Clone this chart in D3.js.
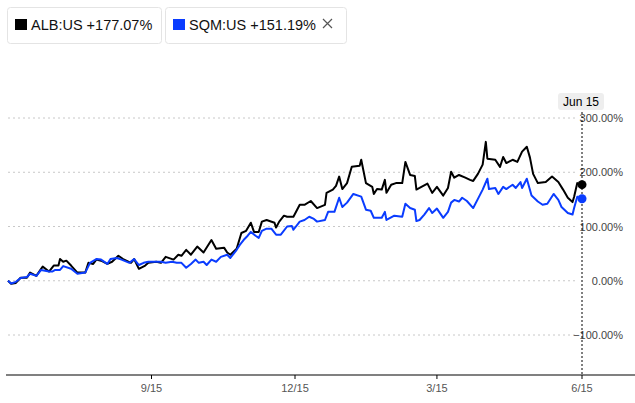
<!DOCTYPE html>
<html>
<head>
<meta charset="utf-8">
<script src="https://d3js.org/d3.v7.min.js"></script>
<style>
  body { margin: 0; background: #fff; }
  svg text { font-family: "Liberation Sans", Arial, Helvetica, sans-serif; }
</style>
</head>
<body>
<script>
  // ALB:US, % change since start
  var albDates = ["2016-06-16","2016-06-18","2016-06-21","2016-06-24","2016-06-28","2016-06-30","2016-07-04","2016-07-07","2016-07-08","2016-07-12","2016-07-15","2016-07-18","2016-07-19","2016-07-21","2016-07-23","2016-07-26","2016-07-30","2016-08-04","2016-08-06","2016-08-09","2016-08-11","2016-08-14","2016-08-18","2016-08-21","2016-08-25","2016-08-28","2016-09-02","2016-09-04","2016-09-07","2016-09-11","2016-09-13","2016-09-18","2016-09-21","2016-09-24","2016-09-29","2016-10-02","2016-10-04","2016-10-07","2016-10-10","2016-10-14","2016-10-18","2016-10-23","2016-10-26","2016-10-31","2016-11-02","2016-11-04","2016-11-08","2016-11-11","2016-11-14","2016-11-17","2016-11-19","2016-11-22","2016-11-24","2016-11-27","2016-12-02","2016-12-03","2016-12-05","2016-12-08","2016-12-10","2016-12-14","2016-12-18","2016-12-21","2016-12-25","2016-12-29","2017-01-03","2017-01-04","2017-01-08","2017-01-10","2017-01-12","2017-01-14","2017-01-17","2017-01-20","2017-01-25","2017-01-26","2017-01-29","2017-02-02","2017-02-03","2017-02-05","2017-02-08","2017-02-10","2017-02-11","2017-02-14","2017-02-17","2017-02-21","2017-02-23","2017-02-26","2017-03-01","2017-03-02","2017-03-04","2017-03-09","2017-03-12","2017-03-15","2017-03-19","2017-03-22","2017-03-24","2017-03-26","2017-03-29","2017-04-02","2017-04-05","2017-04-07","2017-04-10","2017-04-13","2017-04-15","2017-04-16","2017-04-21","2017-04-24","2017-04-26","2017-04-28","2017-05-02","2017-05-05","2017-05-08","2017-05-11","2017-05-13","2017-05-15","2017-05-18","2017-05-23","2017-05-27","2017-05-31","2017-06-03","2017-06-06","2017-06-09","2017-06-10","2017-06-12","2017-06-13","2017-06-15"];
  var albValues = [0,-5.5,-4,5.5,5.5,15,9,22,26,17,28,28,40,35,37,28,15,15,33,31,39,37,31,35,46,40,33,40,22,28,33,35,33,44,39,48,46,57,48,63,52,75,59,61,52,48,59,88,92,107,90,90,109,112,107,98,109,120,118,118,140,140,147,134,140,162,168,175,192,169,180,210,212,223,180,173,160,169,168,186,162,177,180,180,219,195,193,168,171,179,162,173,157,171,201,190,195,190,186,184,197,214,256,225,223,210,228,217,223,219,238,247,227,197,180,182,192,182,168,153,145,155,180,178,177.07];

  // SQM:US, % change since start
  var sqmDates = ["2016-06-16","2016-06-18","2016-06-21","2016-06-24","2016-06-28","2016-06-30","2016-07-04","2016-07-07","2016-07-12","2016-07-14","2016-07-16","2016-07-19","2016-07-21","2016-07-26","2016-07-30","2016-08-04","2016-08-07","2016-08-11","2016-08-14","2016-08-18","2016-08-20","2016-08-24","2016-08-27","2016-09-01","2016-09-04","2016-09-07","2016-09-10","2016-09-13","2016-09-21","2016-09-24","2016-09-28","2016-10-01","2016-10-04","2016-10-07","2016-10-10","2016-10-13","2016-10-15","2016-10-18","2016-10-20","2016-10-23","2016-10-26","2016-10-29","2016-11-02","2016-11-04","2016-11-08","2016-11-10","2016-11-13","2016-11-15","2016-11-17","2016-11-20","2016-11-22","2016-11-24","2016-11-27","2016-11-30","2016-12-03","2016-12-06","2016-12-10","2016-12-13","2016-12-14","2016-12-18","2016-12-21","2016-12-24","2016-12-27","2016-12-29","2017-01-03","2017-01-05","2017-01-09","2017-01-12","2017-01-14","2017-01-17","2017-01-21","2017-01-26","2017-01-29","2017-02-01","2017-02-03","2017-02-08","2017-02-10","2017-02-11","2017-02-16","2017-02-21","2017-02-23","2017-02-26","2017-03-01","2017-03-02","2017-03-04","2017-03-07","2017-03-10","2017-03-12","2017-03-15","2017-03-19","2017-03-22","2017-03-24","2017-03-26","2017-03-29","2017-03-31","2017-04-03","2017-04-07","2017-04-10","2017-04-13","2017-04-16","2017-04-17","2017-04-21","2017-04-23","2017-04-26","2017-04-28","2017-05-02","2017-05-04","2017-05-07","2017-05-08","2017-05-11","2017-05-14","2017-05-18","2017-05-21","2017-05-24","2017-05-28","2017-05-31","2017-06-02","2017-06-06","2017-06-09","2017-06-10","2017-06-12","2017-06-13","2017-06-15"];
  var sqmValues = [0,-5,-2,5,7,13,9,20,17,17,20,20,27,22,13,15,33,40,39,31,40,42,39,33,40,29,33,35,35,33,35,33,33,24,31,39,33,35,29,39,35,44,48,42,57,66,77,83,90,83,79,92,96,96,85,85,100,101,94,109,112,118,114,109,112,127,127,153,136,144,160,155,131,129,116,116,127,112,120,118,142,134,131,110,112,122,134,125,133,116,127,144,149,146,153,147,134,151,168,188,169,171,160,173,169,177,171,182,171,188,157,146,140,142,160,149,136,125,122,134,155,153,151.19];

  var yTicks = [300, 200, 100, 0, -100];
  var xTicks = ["2016-09-15", "2016-12-15", "2017-03-15", "2017-06-15"];
  var legendNames = ["ALB:US", "SQM:US"];
  var legendChanges = ["+177.07%", "+151.19%"];
  var colors = ["#000000", "#0a3cff"];
  var endLabel = "Jun 15";

  var W = 635, H = 403;
  var parse = d3.timeParse("%Y-%m-%d");

  var svg = d3.select("body").append("svg")
    .attr("width", W)
    .attr("height", H);

  var x = d3.scaleTime()
    .domain([parse("2016-06-16"), parse("2017-06-15")])
    .range([8, 582]);

  var y = d3.scaleLinear()
    .domain([-100, 300])
    .range([335, 118]);

  // gridlines + y labels
  var yg = svg.append("g");
  yg.selectAll("line").data(yTicks).enter().append("line")
    .attr("x1", 8).attr("x2", 578)
    .attr("y1", d => y(d)).attr("y2", d => y(d))
    .attr("stroke", "#c8c8c8")
    .attr("stroke-width", 1)
    .attr("stroke-dasharray", "2,3");
  yg.selectAll("text").data(yTicks).enter().append("text")
    .attr("x", 623)
    .attr("y", d => y(d) + 4)
    .attr("text-anchor", "end")
    .attr("fill", "#444")
    .style("font-size", "11px")
    .text(d => d3.format(".2f")(d) + "%");

  // x axis
  svg.append("line")
    .attr("x1", 6).attr("x2", W)
    .attr("y1", 375).attr("y2", 375)
    .attr("stroke", "#808080")
    .attr("stroke-width", 2);

  var xg = svg.append("g");
  xg.selectAll("line").data(xTicks).enter().append("line")
    .attr("x1", d => x(parse(d))).attr("x2", d => x(parse(d)))
    .attr("y1", 375).attr("y2", 379)
    .attr("stroke", "#000")
    .attr("stroke-width", 1);
  xg.selectAll("text").data(xTicks).enter().append("text")
    .attr("x", d => x(parse(d)))
    .attr("y", 392)
    .attr("text-anchor", "middle")
    .attr("fill", "#555")
    .style("font-size", "11px")
    .text(d => d3.timeFormat("%-m/%-d")(parse(d)));

  // series lines
  var series = [
    albDates.map((d, i) => ({ date: parse(d), value: albValues[i] })),
    sqmDates.map((d, i) => ({ date: parse(d), value: sqmValues[i] }))
  ];

  var line = d3.line()
    .x(d => x(d.date))
    .y(d => y(d.value));

  svg.selectAll("path.series").data(series).enter().append("path")
    .attr("class", "series")
    .attr("d", line)
    .attr("fill", "none")
    .attr("stroke", (d, i) => colors[i])
    .attr("stroke-width", 2)
    .attr("stroke-linejoin", "round");

  // vertical marker line at last date
  var lastX = x(parse("2017-06-15"));
  svg.append("line")
    .attr("x1", lastX).attr("x2", lastX)
    .attr("y1", 108).attr("y2", 375)
    .attr("stroke", "#000")
    .attr("stroke-width", 1)
    .attr("stroke-dasharray", "2,2");

  svg.selectAll("circle.end").data(series).enter().append("circle")
    .attr("class", "end")
    .attr("cx", d => x(d[d.length - 1].date))
    .attr("cy", d => y(d[d.length - 1].value))
    .attr("r", 4.5)
    .attr("fill", (d, i) => colors[i]);

  // date badge
  svg.append("rect")
    .attr("x", lastX - 24).attr("y", 93)
    .attr("width", 46).attr("height", 17)
    .attr("rx", 3)
    .attr("fill", "#eeeeee");
  svg.append("text")
    .attr("x", lastX - 1).attr("y", 106)
    .attr("text-anchor", "middle")
    .attr("fill", "#000")
    .style("font-size", "12px")
    .text(endLabel);

  // legend boxes
  var boxes = [{ x: 7, w: 154 }, { x: 165, w: 181 }];
  var lg = svg.selectAll("g.leg").data(legendNames).enter().append("g")
    .attr("class", "leg")
    .attr("transform", (d, i) => "translate(" + boxes[i].x + ",7)");
  lg.append("rect")
    .attr("x", 0.5).attr("y", 0.5)
    .attr("width", (d, i) => boxes[i].w)
    .attr("height", 36)
    .attr("rx", 3)
    .attr("fill", "#fff")
    .attr("stroke", "#e4e4e4");
  lg.append("rect")
    .attr("x", 8).attr("y", 12)
    .attr("width", 12).attr("height", 11)
    .attr("fill", (d, i) => colors[i]);
  lg.append("text")
    .attr("x", 24).attr("y", 23)
    .attr("fill", "#111")
    .style("font-size", "14.5px")
    .text((d, i) => d + " " + legendChanges[i]);

  // close icon
  svg.append("path")
    .attr("d", "M323,19L332,28M332,19L323,28")
    .attr("stroke", "#555")
    .attr("stroke-width", 1.2)
    .attr("fill", "none");
</script>
</body>
</html>
